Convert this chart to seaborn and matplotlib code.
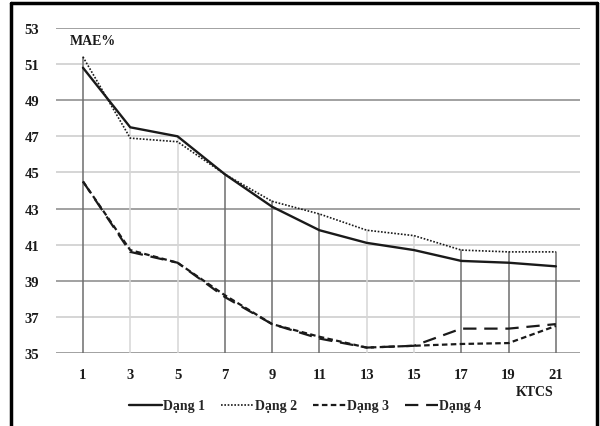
import matplotlib
matplotlib.use("Agg")
import matplotlib.pyplot as plt
from matplotlib.lines import Line2D
import seaborn as sns
import pandas as pd
import numpy as np

# ---- data ----
ktcs = [1, 3, 5, 7, 9, 11, 13, 15, 17, 19, 21]
dang1 = [50.8, 47.5, 47.0, 44.9, 43.1, 41.8, 41.1, 40.7, 40.1, 40.0, 39.8]
dang2 = [51.4, 46.9, 46.7, 44.9, 43.4, 42.7, 41.8, 41.5, 40.7, 40.6, 40.6]
dang3 = [44.5, 40.7, 40.0, 38.2, 36.6, 35.9, 35.3, 35.4, 35.5, 35.55, 36.5]
dang4 = [44.5, 40.6, 40.0, 38.1, 36.6, 35.8, 35.3, 35.4, 36.35, 36.35, 36.6]
series_names = ["Dạng 1", "Dạng 2", "Dạng 3", "Dạng 4"]
y_ticks = [35, 37, 39, 41, 43, 45, 47, 49, 51, 53]
y_label = "MAE%"
x_label = "KTCS"

sns.set_theme(style="white")
plt.rcParams['font.family'] = ['Liberation Serif', 'DejaVu Serif']

fig = plt.figure(figsize=(6, 4.27), dpi=100)
ax = fig.add_axes([56/600, 1-354/427, 524/600, 325/427])

# horizontal gridlines
for yv in y_ticks:
    dark = yv in (53, 49, 43, 39, 35)
    ax.axhline(yv, color="#9a9a9a" if dark else "#d2d2d2", lw=1.3, zorder=0)

# drop lines from the top series to the axis
tops = np.max(np.array([dang1, dang2, dang3, dang4]), axis=0)
for xv, tv in zip(ktcs, tops):
    c = "#d6d6d6" if xv in (3, 5, 13, 15) else "#6e6e6e"
    ax.plot([xv, xv], [35, tv], color=c, lw=1.1, zorder=1)

df = pd.DataFrame({"x": ktcs * 4,
                   "y": dang1 + dang2 + dang3 + dang4,
                   "s": sum([[n] * len(ktcs) for n in series_names], [])})

styles = {
    "Dạng 1": dict(lw=1.7, ls="-"),
    "Dạng 2": dict(lw=1.2, ls=(0, (1, 1))),
    "Dạng 3": dict(lw=1.6, ls=(0, (2.5, 1.5))),
    "Dạng 4": dict(lw=1.6, ls=(0, (6, 3.5))),
}
for name in series_names:
    sub = df[df.s == name]
    sns.lineplot(data=sub, x="x", y="y", ax=ax, color="#1a1a1a",
                 linewidth=styles[name]["lw"], linestyle=styles[name]["ls"],
                 zorder=3)

ax.set_xlim(-0.14, 22.02)
ax.set_ylim(35, 53)
ax.set_xticks(ktcs)
ax.set_yticks(y_ticks)
ax.set_xlabel("")
ax.set_ylabel("")
for s in ax.spines.values():
    s.set_visible(False)
ax.tick_params(axis="both", length=0, labelsize=10.5, colors="#1a1a1a")
ax.tick_params(axis="y", pad=12)
ax.tick_params(axis="x", pad=11)
for lab in ax.get_xticklabels() + ax.get_yticklabels():
    lab.set_fontweight("bold")

ax.text(0.45, 52.3, y_label, fontsize=10, fontweight="bold", ha="left",
        va="center", color="#1a1a1a")
fig.text(535/600, 1-393/427, x_label, fontsize=10, fontweight="bold",
         ha="center", va="center", color="#1a1a1a")

handles = [Line2D([], [], color="#1a1a1a", lw=styles[n]["lw"], ls=styles[n]["ls"])
           for n in series_names]
leg = fig.legend(handles, series_names, loc="center", bbox_to_anchor=(305/600, 1-407/427),
                 ncol=4, frameon=False, handlelength=2.4, handletextpad=0.1,
                 columnspacing=1.1, prop={"weight": "bold", "size": 10})

# outer border (left, top, right)
fig.add_artist(Line2D([11/600, 11/600], [0, 1-4/427], transform=fig.transFigure,
                      color="black", lw=2.5))
fig.add_artist(Line2D([11/600, 597/600], [1-4/427, 1-4/427], transform=fig.transFigure,
                      color="black", lw=2.5))
fig.add_artist(Line2D([597/600, 597/600], [0, 1-4/427], transform=fig.transFigure,
                      color="black", lw=2.5))

fig.savefig("out.png", dpi=100, facecolor="white")
